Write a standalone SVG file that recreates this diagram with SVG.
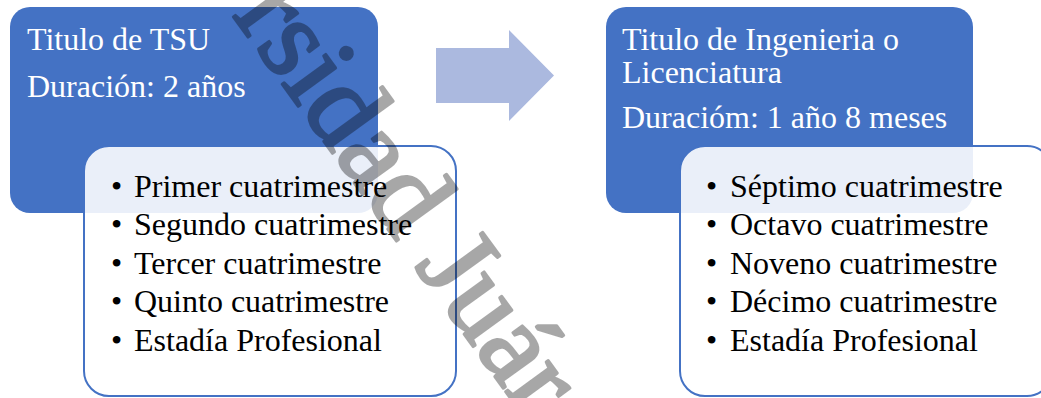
<svg xmlns="http://www.w3.org/2000/svg" width="1041" height="398" viewBox="0 0 1041 398">
<style>
.blue{fill:#4472C4;}
.card{fill:#FFFFFF;fill-opacity:0.89;stroke:#4472C4;stroke-width:2;}
.t{font-family:"Liberation Serif","Times New Roman",serif;font-size:32px;}
.w{fill:#FFFFFF;}
.k{fill:#000000;}
.wm{font-family:"Liberation Serif","Times New Roman",serif;font-size:115px;fill:#000000;stroke:#000000;stroke-width:3;stroke-linejoin:round;}
</style>
<rect width="1041" height="398" fill="#FFFFFF"/>
<g id="node-tsu">
<rect class="blue" x="10" y="7" width="368" height="206" rx="20"/>
<text class="t w" x="27" y="50">Titulo de TSU</text>
<text class="t w" x="27" y="97">Duración: 2 años</text>
</g>
<g id="node-tsu-list">
<rect class="card" x="84" y="146" width="372" height="250" rx="25"/>
<text class="t k" x="111" y="197">•</text><text class="t k" x="134" y="197">Primer cuatrimestre</text>
<text class="t k" x="111" y="235">•</text><text class="t k" x="134" y="235">Segundo cuatrimestre</text>
<text class="t k" x="111" y="274">•</text><text class="t k" x="134" y="274">Tercer cuatrimestre</text>
<text class="t k" x="111" y="312">•</text><text class="t k" x="134" y="312">Quinto cuatrimestre</text>
<text class="t k" x="111" y="351">•</text><text class="t k" x="134" y="351">Estadía Profesional</text>
</g>
<g id="connectors">
<polygon points="436,48 509,48 509,30 554,75.5 509,121 509,103 436,103" fill="#ABB9DF"/>
</g>
<g id="node-ing">
<rect class="blue" x="606" y="7" width="367" height="206" rx="20"/>
<text class="t w" x="622" y="50">Titulo de Ingenieria o</text>
<text class="t w" x="622" y="83">Licenciatura</text>
<text class="t w" x="622" y="128">Duracióm: 1 año 8 meses</text>
</g>
<g id="node-ing-list">
<rect class="card" x="680" y="146" width="372" height="250" rx="25"/>
<text class="t k" x="706" y="197">•</text><text class="t k" x="730" y="197">Séptimo cuatrimestre</text>
<text class="t k" x="706" y="235">•</text><text class="t k" x="730" y="235">Octavo cuatrimestre</text>
<text class="t k" x="706" y="274">•</text><text class="t k" x="730" y="274">Noveno cuatrimestre</text>
<text class="t k" x="706" y="312">•</text><text class="t k" x="730" y="312">Décimo cuatrimestre</text>
<text class="t k" x="706" y="351">•</text><text class="t k" x="730" y="351">Estadía Profesional</text>
</g>
<g id="watermark" opacity="0.34">
<text class="wm" transform="translate(232,15) rotate(54)">rsidad Juár</text>
</g>
</svg>
